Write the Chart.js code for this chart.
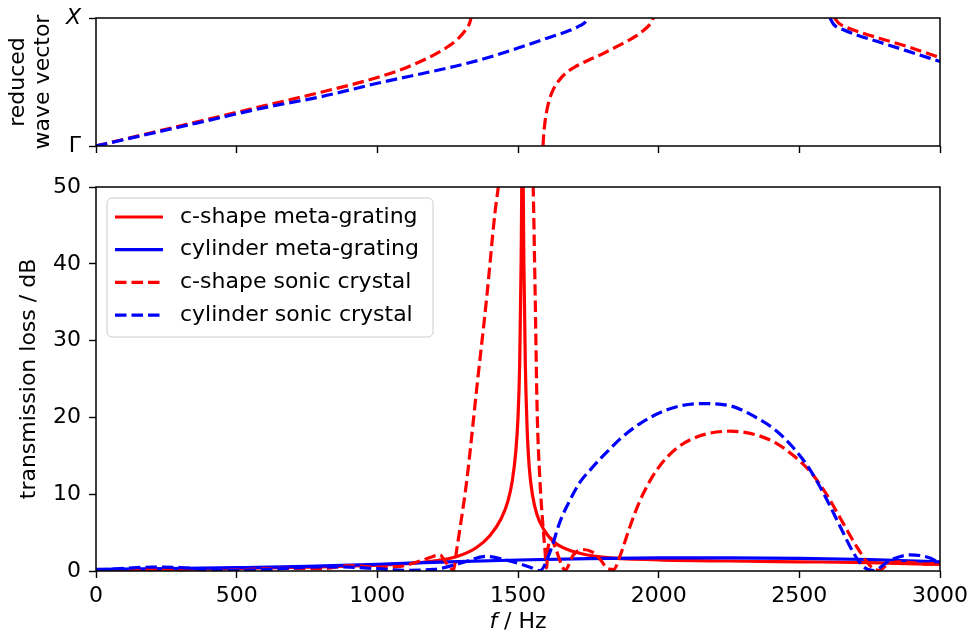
<!DOCTYPE html>
<html>
<head>
<meta charset="utf-8">
<script src="https://cdn.jsdelivr.net/npm/chart.js@4"></script>
<style>
  html, body { margin: 0; padding: 0; background: #fff; }
  #wrap { position: relative; width: 969px; height: 636px; }
  canvas { position: absolute; left: 0; }
</style>
</head>
<body>
<div id="wrap">
  <canvas id="bandChart" width="969" height="175" style="top:0"></canvas>
  <canvas id="lossChart" width="969" height="466" style="top:170px"></canvas>
</div>
<script>
// ---- data ----
const seriesLabels = ["c-shape meta-grating", "cylinder meta-grating", "c-shape sonic crystal", "cylinder sonic crystal"];
const bandTickLabels = ["Γ", "X"];

// reduced wave vector (0 = Γ, 1 = X), null = branch break
const bandFreqCshape = [0, 200, 400, 600, 800, 1000, 1100, 1200, 1250, 1290, 1315, 1328, 1333, 1450,
  1589, 1591, 1595, 1601, 1610, 1625, 1645, 1670, 1700, 1750, 1800, 1863, 1920, 1955, 1972, 1981, 2300,
  2625, 2640, 2665, 2700, 2787, 2880, 3000];
const bandKCshape = [0, 0.105, 0.21, 0.315, 0.42, 0.535, 0.61, 0.71, 0.775, 0.845, 0.91, 0.96, 1.0, null,
  0, 0.08, 0.17, 0.26, 0.35, 0.44, 0.51, 0.57, 0.615, 0.67, 0.72, 0.79, 0.86, 0.92, 0.96, 1.0, null,
  1.0, 0.96, 0.93, 0.90, 0.84, 0.78, 0.69];
const bandFreqCyl = [0, 200, 400, 600, 800, 1000, 1200, 1300, 1400, 1500, 1600, 1680, 1720, 1740, 1747, 2200,
  2609, 2622, 2655, 2700, 2787, 2880, 3000];
const bandKCyl = [0, 0.1, 0.2, 0.30, 0.385, 0.49, 0.585, 0.635, 0.695, 0.765, 0.84, 0.9, 0.94, 0.97, 1.0, null,
  1.0, 0.95, 0.91, 0.87, 0.81, 0.745, 0.66];

// transmission loss / dB
const lossFreqCshapeGrating = [0, 250, 500, 750, 1000, 1100, 1200, 1280, 1350, 1400, 1440, 1465, 1480, 1492, 1500,
  1506, 1511, 1516, 1521, 1526, 1532, 1540, 1552, 1567, 1590, 1630, 1700, 1800, 2000, 2250, 2500, 2750, 3000];
const lossCshapeGrating = [0.1, 0.2, 0.33, 0.5, 0.75, 0.95, 1.3, 1.85, 3.0, 4.6, 6.8, 9.2, 11.8, 15.5, 20,
  27, 40, 58, 40, 27, 19, 13.5, 9.8, 7.4, 5.5, 3.7, 2.5, 1.8, 1.45, 1.3, 1.2, 1.1, 0.85];

const lossFreqCylGrating = [0, 250, 500, 750, 1000, 1250, 1500, 1750, 2000, 2250, 2500, 2750, 3000];
const lossCylGrating = [0.2, 0.3, 0.43, 0.6, 0.87, 1.2, 1.43, 1.6, 1.7, 1.72, 1.65, 1.5, 1.2];

const lossFreqCshapeCrystal = [0, 100, 200, 300, 400, 500, 600, 700, 800, 900,
  1000, 1080, 1152, 1190, 1223, 1240, 1258, 1270, 1283, 1294,
  1318, 1354, 1389, 1418, 1430, 1450, 1480, 1510, 1540, 1548,
  1554, 1561, 1568, 1578, 1590, 1596, 1601, 1607, 1616, 1632,
  1655, 1667, 1697, 1731, 1763, 1792, 1820, 1840, 1863, 1898,
  1934, 1994, 2065, 2147, 2254, 2349, 2420, 2480, 2540, 2598, 2656,
  2705, 2740, 2763, 2785, 2815, 2850, 2900, 2950, 3000];
const lossCshapeCrystal = [0.05, 0.1, 0.2, 0.15, 0.1, 0.15, 0.3, 0.35, 0.3, 0.7,
  0.5, 0.6, 1.3, 1.8, 2.1, 1.3, 0.5, 0.1, 3.0, 5.6,
  11.8, 24, 35.7, 46.6, 50, 56, 62, 64, 62, 58,
  50, 36, 21, 11.8, 5.3, 2.7, 0.4, 3.0, 4.3, 3.1,
  0.8, 0.1, 2.1, 2.8, 2.5, 1.5, 0.3, 0.2, 2.0, 5.8,
  9.2, 13.2, 16, 17.6, 18.2, 17.7, 16.6, 15.0, 12.9, 9.9, 6.2,
  3.1, 1.2, 0.3, 0.1, 0.9, 1.2, 1.1, 0.9, 1.0];

const lossFreqCylCrystal = [0, 100, 200, 300, 400, 500, 600, 700, 800, 900,
  1000, 1100, 1200, 1294, 1389, 1460, 1543, 1578, 1614, 1650,
  1690, 1721, 1760, 1792, 1830, 1863, 1934, 2030, 2147, 2243,
  2360, 2420, 2470, 2527, 2570, 2610, 2645, 2692, 2727, 2763,
  2823, 2894, 2965, 3000];
const lossCylCrystal = [0.1, 0.35, 0.5, 0.45, 0.2, 0.1, 0.2, 0.4, 0.55, 0.5,
  0.3, 0.1, 0.2, 1.0, 1.9, 1.4, 0.5, 0.05, 2.5, 6.5,
  9.6, 11.6, 13.3, 14.6, 16.0, 17.2, 19.2, 21, 21.8, 21.6,
  19.7, 18.2, 16.4, 13.8, 11.2, 8.4, 5.8, 2.4, 0.6, 0.05,
  1.4, 2.1, 1.7, 1.0];

// ---- styling ----
const FONT = "'DejaVu Sans', sans-serif";
const FONT_SIZE = 22;
const RED = "#ff0000";
const BLUE = "#0000ff";
const LINE_W = 3.2;
const DASH = [11.5, 5];

Chart.defaults.color = "#000";
Chart.defaults.font.family = FONT;
Chart.defaults.font.size = FONT_SIZE;

function toPoints(xs, ys) {
  return xs.map((x, i) => ({ x: x, y: ys[i] }));
}

function lineSet(label, xs, ys, color, dashed, order) {
  return {
    label: label,
    data: toPoints(xs, ys),
    borderColor: color,
    backgroundColor: color,
    borderWidth: LINE_W,
    borderDash: dashed ? DASH : [],
    pointRadius: 0,
    fill: false,
    spanGaps: false,
    cubicInterpolationMode: "monotone",
    clip: 0,
    order: order
  };
}

// keep the plot box exactly where the layout padding puts it
function fixWidth(w) {
  return function (scale) {
    scale.width = w;
    scale.paddingTop = scale.paddingBottom = scale.paddingLeft = scale.paddingRight = 0;
  };
}
function fixHeight(h) {
  return function (scale) {
    scale.height = h;
    scale.paddingTop = scale.paddingBottom = scale.paddingLeft = scale.paddingRight = 0;
  };
}

// spines on all four sides, like matplotlib
const framePlugin = {
  id: "frame",
  afterDatasetsDraw(chart) {
    const { ctx, chartArea: a } = chart;
    ctx.save();
    ctx.strokeStyle = "#000";
    ctx.lineWidth = 1.5;
    ctx.strokeRect(a.left, a.top, a.right - a.left, a.bottom - a.top);
    ctx.restore();
  }
};

// legend drawn inside the axes, upper left
const insideLegend = {
  id: "insideLegend",
  afterDraw(chart) {
    const { ctx, chartArea: a } = chart;
    const x0 = a.left + 11, y0 = a.top + 11, w = 326, h = 139, r = 5;
    ctx.save();
    ctx.beginPath();
    ctx.moveTo(x0 + r, y0);
    ctx.arcTo(x0 + w, y0, x0 + w, y0 + h, r);
    ctx.arcTo(x0 + w, y0 + h, x0, y0 + h, r);
    ctx.arcTo(x0, y0 + h, x0, y0, r);
    ctx.arcTo(x0, y0, x0 + w, y0, r);
    ctx.closePath();
    ctx.fillStyle = "rgba(255,255,255,0.8)";
    ctx.fill();
    ctx.strokeStyle = "#cccccc";
    ctx.lineWidth = 1;
    ctx.stroke();

    chart.data.datasets.forEach((ds, i) => {
      const yy = y0 + 19 + i * 32.7;
      ctx.beginPath();
      ctx.setLineDash(ds.borderDash);
      ctx.strokeStyle = ds.borderColor;
      ctx.lineWidth = ds.borderWidth;
      ctx.moveTo(x0 + 8, yy);
      ctx.lineTo(x0 + 56, yy);
      ctx.stroke();
      ctx.setLineDash([]);
      ctx.fillStyle = "#000";
      ctx.font = FONT_SIZE + "px " + FONT;
      ctx.textBaseline = "middle";
      ctx.textAlign = "left";
      ctx.fillText(ds.label, x0 + 73, yy);
    });
    ctx.restore();
  }
};

// x axis title with an italic f
const freqTitle = {
  id: "freqTitle",
  afterDraw(chart) {
    const { ctx, chartArea: a } = chart;
    const italic = "italic " + FONT_SIZE + "px " + FONT;
    const normal = FONT_SIZE + "px " + FONT;
    ctx.save();
    ctx.fillStyle = "#000";
    ctx.textBaseline = "middle";
    ctx.textAlign = "left";
    ctx.font = italic;
    const w1 = ctx.measureText("f").width;
    ctx.font = normal;
    const w2 = ctx.measureText(" / Hz").width;
    const x = (a.left + a.right) / 2 - (w1 + w2) / 2;
    const y = a.bottom + 51;
    ctx.font = italic;
    ctx.fillText("f", x, y);
    ctx.font = normal;
    ctx.fillText(" / Hz", x + w1, y);
    ctx.restore();
  }
};

const tickGrid = {
  drawOnChartArea: false,
  drawTicks: true,
  tickLength: 7,
  tickColor: "#000",
  tickWidth: 1.4
};

// ---- top panel: band structure ----
new Chart(document.getElementById("bandChart"), {
  type: "line",
  data: {
    datasets: [
      lineSet("c-shape sonic crystal", bandFreqCshape, bandKCshape, RED, true, 1),
      lineSet("cylinder sonic crystal", bandFreqCyl, bandKCyl, BLUE, true, 0)
    ]
  },
  options: {
    responsive: false,
    animation: false,
    layout: { padding: { left: 0, right: 29, top: 18, bottom: 0 } },
    plugins: { legend: { display: false }, tooltip: { enabled: false } },
    scales: {
      x: {
        type: "linear", min: 0, max: 3000,
        ticks: { stepSize: 500, display: false },
        grid: tickGrid,
        border: { display: false },
        afterFit: fixHeight(29)
      },
      y: {
        type: "linear", min: 0, max: 1,
        ticks: {
          stepSize: 1,
          padding: 8,
          callback: v => bandTickLabels[v],
          font: ctx => ({ family: FONT, size: FONT_SIZE, style: ctx.index === 1 ? "italic" : "normal" })
        },
        grid: tickGrid,
        border: { display: false },
        title: {
          display: true,
          text: ["reduced", "wave vector"],
          font: { family: FONT, size: FONT_SIZE, lineHeight: 1.14 },
          padding: { top: 6, bottom: 0 }
        },
        afterFit: fixWidth(96)
      }
    }
  },
  plugins: [framePlugin]
});

// ---- bottom panel: transmission loss ----
new Chart(document.getElementById("lossChart"), {
  type: "line",
  data: {
    datasets: [
      lineSet(seriesLabels[0], lossFreqCshapeGrating, lossCshapeGrating, RED, false, 3),
      lineSet(seriesLabels[1], lossFreqCylGrating, lossCylGrating, BLUE, false, 2),
      lineSet(seriesLabels[2], lossFreqCshapeCrystal, lossCshapeCrystal, RED, true, 1),
      lineSet(seriesLabels[3], lossFreqCylCrystal, lossCylCrystal, BLUE, true, 0)
    ]
  },
  options: {
    responsive: false,
    animation: false,
    layout: { padding: { left: 0, right: 29, top: 17, bottom: 0 } },
    plugins: { legend: { display: false }, tooltip: { enabled: false } },
    scales: {
      x: {
        type: "linear", min: 0, max: 3000,
        ticks: { stepSize: 500, padding: 5, maxRotation: 0, autoSkip: false, callback: v => String(v) },
        grid: tickGrid,
        border: { display: false },
        afterFit: fixHeight(65)
      },
      y: {
        type: "linear", min: 0, max: 50,
        ticks: { stepSize: 10, padding: 8, callback: v => String(v) },
        grid: tickGrid,
        border: { display: false },
        title: {
          display: true,
          text: "transmission loss / dB",
          padding: { top: 16, bottom: 0 }
        },
        afterFit: fixWidth(96)
      }
    }
  },
  plugins: [framePlugin, insideLegend, freqTitle]
});
</script>
</body>
</html>
